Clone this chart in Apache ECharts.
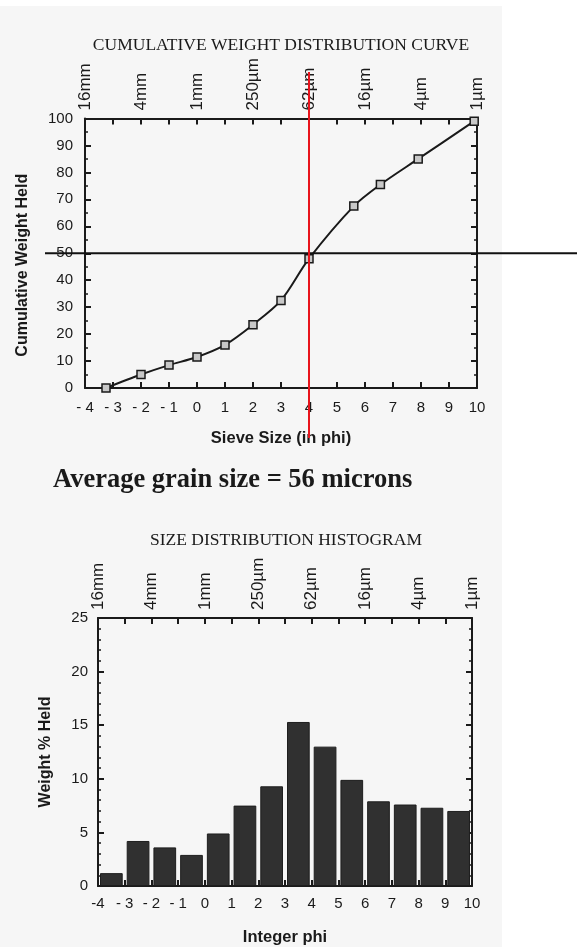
<!DOCTYPE html>
<html><head><meta charset="utf-8">
<script src="https://cdn.jsdelivr.net/npm/echarts@6/dist/echarts.min.js"></script>
<style>html,body{margin:0;padding:0;background:#fff}#c{width:577px;height:947px}</style>
</head><body><div id="c"></div>
<script>
// ---- data ----
const cumPhi = [-3.25, -2, -1, 0, 1, 2, 3, 4, 5.6, 6.55, 7.9, 9.9];
const cumWeight = [0, 5, 8.5, 11.5, 16, 23.5, 32.5, 48, 67.5, 75.5, 85, 99];
const binPhi = [-4, -3, -2, -1, 0, 1, 2, 3, 4, 5, 6, 7, 8, 9];
const binWeight = [1.2, 4.2, 3.6, 2.9, 4.9, 7.5, 9.3, 15.3, 13.0, 9.9, 7.9, 7.6, 7.3, 7.0];
const sizePhi = [-4, -2, 0, 2, 4, 6, 8, 10];
const sizeLabels = ['16mm', '4mm', '1mm', '250µm', '62µm', '16µm', '4µm', '1µm'];
const phiTicks = [-4, -3, -2, -1, 0, 1, 2, 3, 4, 5, 6, 7, 8, 9, 10];
const phiLabelsTop = ['- 4', '- 3', '- 2', '- 1', '0', '1', '2', '3', '4', '5', '6', '7', '8', '9', '10'];
const phiLabelsBottom = ['-4', '- 3', '- 2', '- 1', '0', '1', '2', '3', '4', '5', '6', '7', '8', '9', '10'];
const medianPhi = 4;
const medianCum = 50;
const titleCurve = 'CUMULATIVE WEIGHT DISTRIBUTION CURVE';
const titleHist = 'SIZE DISTRIBUTION HISTOGRAM';
const avgText = 'Average grain size = 56 microns';

// ---- styles ----
const ink = '#1a1a1a';
const sans = 'Liberation Sans, Arial, sans-serif';
const serif = 'Liberation Serif, Times New Roman, serif';
const lineStyle = { color: ink, width: 2 };

function xBottom(gridIndex, labels, margin) {
  return {
    gridIndex, type: 'value', min: -4, max: 10, interval: 1, position: 'bottom',
    axisLine: { show: true, onZero: false, lineStyle },
    axisTick: { show: true, inside: true, length: 6, lineStyle: { color: ink, width: 2 } },
    axisLabel: { margin, fontFamily: sans, fontSize: 15, color: ink,
      formatter: v => { const i = phiTicks.indexOf(v); return i >= 0 ? labels[i] : ''; } },
    splitLine: { show: false }
  };
}
function xTop(gridIndex) {
  return {
    gridIndex, type: 'value', min: -4, max: 10, interval: 1, position: 'top',
    axisLine: { show: true, onZero: false, lineStyle },
    axisTick: { show: true, inside: true, length: 6, lineStyle: { color: ink, width: 2 } },
    axisLabel: { margin: 8, rotate: -90, fontFamily: sans, fontSize: 17, color: ink,
      formatter: v => { const i = sizePhi.indexOf(v); return i >= 0 ? sizeLabels[i] : ''; } },
    splitLine: { show: false }
  };
}
function yAxisPair(gridIndex, max, interval, minorSplit, name, nameGap, margin, namePad) {
  const common = {
    gridIndex, type: 'value', min: 0, max, interval,
    axisLine: { show: true, onZero: false, lineStyle },
    axisTick: { show: true, inside: true, length: 6, lineStyle: { color: ink, width: 2 } },
    minorTick: { show: true, splitNumber: minorSplit, length: 3, lineStyle: { color: ink, width: 1.5 } },
    splitLine: { show: false }, minorSplitLine: { show: false }
  };
  return [
    Object.assign({}, common, { position: 'left', name, nameLocation: 'middle', nameGap,
      nameTextStyle: { fontFamily: sans, fontWeight: 'bold', fontSize: 16, color: ink, padding: namePad },
      axisLabel: { margin, fontFamily: sans, fontSize: 15, color: ink } }),
    Object.assign({}, common, { position: 'right', axisLabel: { show: false } })
  ];
}

const chart = echarts.init(document.getElementById('c'), null, { renderer: 'canvas' });
const yTop = yAxisPair(0, 100, 10, 2, 'Cumulative Weight Held', 54, 12, [0, 24, 0, 0]);
const yBot = yAxisPair(1, 25, 5, 5, 'Weight % Held', 44, 10, [0, 0, 0, 0]);

const panel = { type: 'rect', id: 'panel', z: -10, shape: { x: 0, y: 6, width: 502, height: 941 }, style: { fill: '#f6f6f6' } };

const option = {
  animation: false,
  backgroundColor: '#ffffff',
  graphic: [panel],
  title: [
    { text: titleCurve, left: 276, top: 31, textAlign: 'center',
      textStyle: { fontFamily: serif, fontWeight: 'normal', fontSize: 17.5, color: ink } },
    { text: avgText, left: 48, top: 462,
      textStyle: { fontFamily: serif, fontWeight: 'bold', fontSize: 26.5, color: '#1a1a1a' } },
    { text: titleHist, left: 281, top: 526, textAlign: 'center',
      textStyle: { fontFamily: serif, fontWeight: 'normal', fontSize: 17.5, color: ink } }
  ],
  grid: [
    { left: 85, top: 118.5, width: 392, height: 269.5 },
    { left: 98, top: 618, width: 374, height: 269 }
  ],
  xAxis: [
    Object.assign(xBottom(0, phiLabelsTop, 12), { name: 'Sieve Size (in phi)', nameLocation: 'middle', nameGap: 42,
      nameTextStyle: { fontFamily: sans, fontWeight: 'bold', fontSize: 16.5, color: ink } }),
    xTop(0),
    Object.assign(xBottom(1, phiLabelsBottom, 10), { name: 'Integer phi', nameLocation: 'middle', nameGap: 43,
      nameTextStyle: { fontFamily: sans, fontWeight: 'bold', fontSize: 16.5, color: ink } }),
    xTop(1)
  ],
  yAxis: [yTop[0], yTop[1], yBot[0], yBot[1]],
  series: [
    {
      type: 'line', xAxisIndex: 0, yAxisIndex: 0,
      data: cumPhi.map((p, i) => [p, cumWeight[i]]),
      smooth: 0.3,
      lineStyle: { color: ink, width: 2 },
      symbol: 'rect', symbolSize: 8,
      itemStyle: { color: '#c8c8c8', borderColor: ink, borderWidth: 1.5 },
      z: 3
    },
    {
      type: 'bar', xAxisIndex: 2, yAxisIndex: 2,
      data: binPhi.map((p, i) => [p + 0.5, binWeight[i]]),
      barWidth: '85%',
      itemStyle: { color: '#303030', borderColor: '#1e1e1e', borderWidth: 1 }
    }
  ]
};
chart.setOption(option);

// Median guide lines, positioned through the chart's own scales
const pt = chart.convertToPixel({ xAxisIndex: 0, yAxisIndex: 0 }, [medianPhi, medianCum]);
chart.setOption({
  graphic: [
    panel,
    { type: 'line', id: 'hline', z: 50, shape: { x1: 45, y1: pt[1], x2: 577, y2: pt[1] }, style: { stroke: '#111', lineWidth: 2 } },
    { type: 'line', id: 'vline', z: 50, shape: { x1: pt[0], y1: 72, x2: pt[0], y2: 438 }, style: { stroke: '#e8141c', lineWidth: 2 } }
  ]
});
</script></body></html>
